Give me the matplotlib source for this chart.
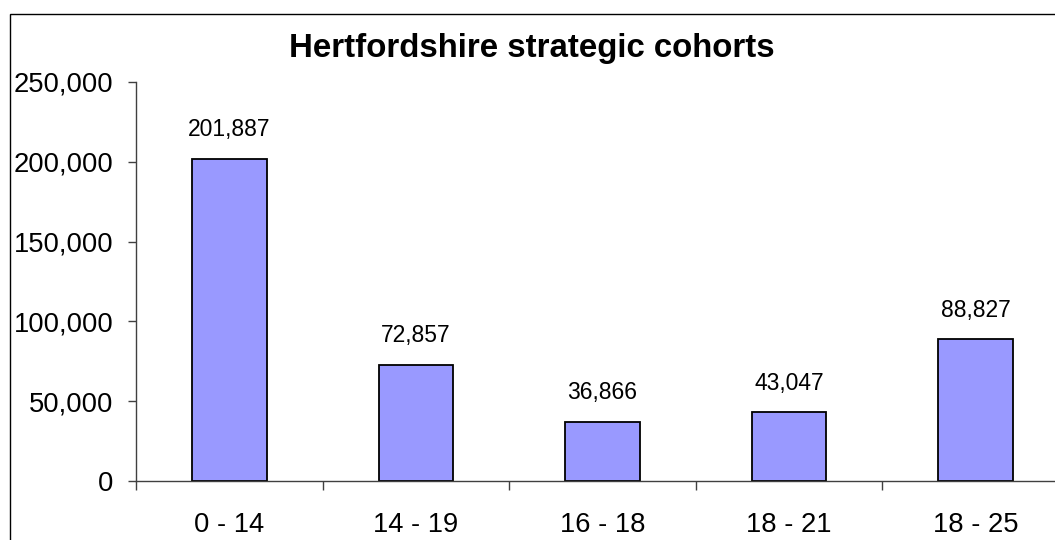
import matplotlib.pyplot as plt
from matplotlib.patches import Rectangle
from matplotlib.ticker import FuncFormatter

# Cohort populations
cohorts = ['0 - 14', '14 - 19', '16 - 18', '18 - 21', '18 - 25']
people = [201887, 72857, 36866, 43047, 88827]
yticks = [0, 50000, 100000, 150000, 200000, 250000]

plt.rcParams['font.family'] = ['Liberation Sans', 'DejaVu Sans']

W, H = 1055, 540
fig = plt.figure(figsize=(W / 100, H / 100), dpi=100)
fig.set_facecolor('white')

# Chart area border (runs off the right/bottom of the image)
fig.patches.append(Rectangle((9.5 / W, -0.2), 2.0, (H - 14) / H + 0.2,
                             transform=fig.transFigure, fill=False,
                             edgecolor='#000000', linewidth=1.0))

# Plot area, in pixels
left, right = 136, 1069
bottom, top = 481, 82
ax = fig.add_axes([left / W, (H - bottom) / H, (right - left) / W, (bottom - top) / H])
ax.set_facecolor('none')

x = list(range(len(cohorts)))
ax.bar(x, people, width=0.4, color='#9999FF', edgecolor='black', linewidth=1.3, zorder=2)

for xi, v in zip(x, people):
    ax.annotate(f'{v:,}', (xi, v), xytext=(0, 21), textcoords='offset points',
                ha='center', va='center', fontsize=16.5, color='black')

ax.set_xlim(-0.5, len(cohorts) - 0.5)
ax.set_ylim(0, 250000)
ax.set_yticks(yticks)
ax.yaxis.set_major_formatter(FuncFormatter(lambda v, p: f'{int(v):,}'))

# Category labels at centres, tick marks at boundaries
ax.set_xticks(x)
ax.set_xticklabels(cohorts)
ax.set_xticks([i - 0.5 for i in range(len(cohorts) + 1)], minor=True)
ax.tick_params(axis='x', which='major', length=0, pad=22, labelsize=19.7)
ax.tick_params(axis='x', which='minor', length=6.5, width=1.0, direction='out', color='#404040')
ax.tick_params(axis='y', length=5.8, width=1.0, direction='out', pad=10.6,
               labelsize=19.7, color='#404040')

for s in ['top', 'right']:
    ax.spines[s].set_visible(False)
for s in ['left', 'bottom']:
    ax.spines[s].set_color('#404040')
    ax.spines[s].set_linewidth(1.0)

fig.text(532 / W, (H - 57) / H, 'Hertfordshire strategic cohorts',
         ha='center', va='baseline', fontsize=23.8, fontweight='bold')

fig.savefig('out.png', dpi=100)
